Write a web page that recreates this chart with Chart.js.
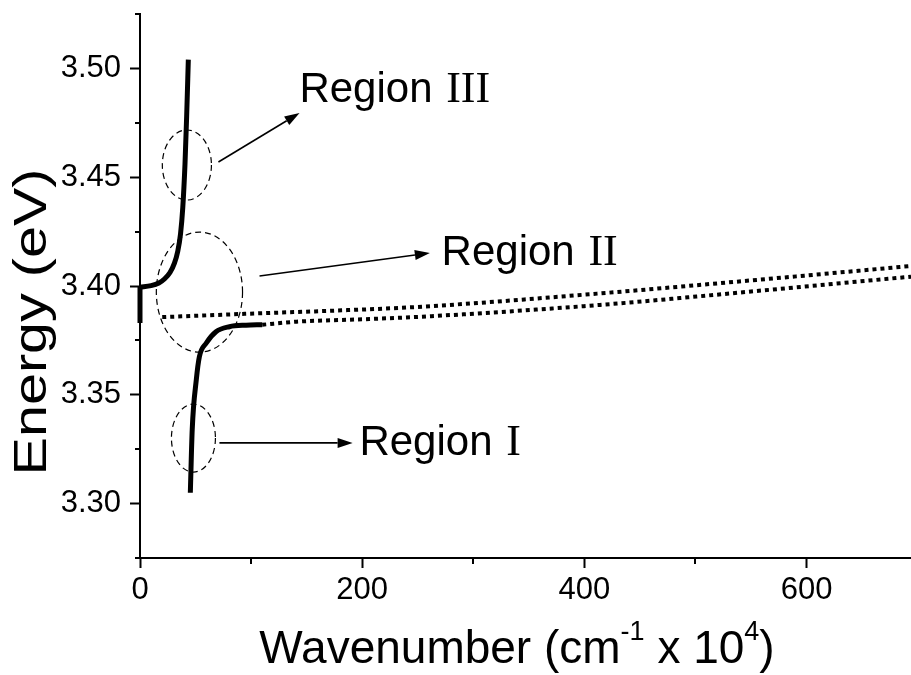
<!DOCTYPE html>
<html lang="en">
<head>
<meta charset="UTF-8">
<title>Polariton dispersion</title>
<script src="https://cdn.jsdelivr.net/npm/chart.js"></script>
<style>
  html, body { margin: 0; padding: 0; background: #fff; }
  #wrap { width: 911px; height: 675px; }
</style>
</head>
<body>
<div id="wrap"><canvas id="dispChart" width="911" height="675"></canvas></div>
<script>
// upper polariton branch (solid)
const upperK = [0, 10, 17, 22, 27, 31, 34, 36.5, 38.5, 40.5, 42, 43.5];
const upperE = [3.3995, 3.4002, 3.4014, 3.4032, 3.4062, 3.4105, 3.4160, 3.4240, 3.4360, 3.4560, 3.4780, 3.5040];

// lower polariton branch (solid part)
const lowerK = [45.3, 47, 50.7, 53.4, 59.7, 68.4, 80.5, 95.5, 110];
const lowerE = [3.305, 3.334, 3.357, 3.3674, 3.3738, 3.379, 3.3813, 3.382, 3.3822];

// short stub on the energy axis at k = 0
const stubK = [0, 0];
const stubE = [3.383, 3.400];

// dotted dispersion curves
const upperDotK = [20, 110, 171, 254, 414, 555, 694];
const upperDotE = [3.3857, 3.3875, 3.3886, 3.3905, 3.3966, 3.4028, 3.4092];
const lowerDotK = [110, 141, 200, 254, 414, 555, 694];
const lowerDotE = [3.3822, 3.3836, 3.3847, 3.3859, 3.3913, 3.3977, 3.4043];

// axes
const kMin = 0, kMax = 694;
const eMin = 3.275, eMax = 3.525;
const kTicks = [0, 100, 200, 300, 400, 500, 600];
const kLabels = ['0', '', '200', '', '400', '', '600'];
const eTicks = [3.275, 3.300, 3.325, 3.350, 3.375, 3.400, 3.425, 3.450, 3.475, 3.500, 3.525];
const eLabels = ['', '3.30', '', '3.35', '', '3.40', '', '3.45', '', '3.50', ''];

// region markers (data coordinates)
const regionNames = ['III', 'II', 'I'];
const ringK = [42.2, 53.5, 48.1];
const ringE = [3.4556, 3.3972, 3.3301];
const ringRadK = [22.1, 38.8, 19.8];
const ringRadE = [0.0161, 0.0276, 0.0156];
const arrowFromK = [70.6, 107.6, 71.5];
const arrowFromE = [3.457, 3.4046, 3.3279];
const arrowToK = [143.6, 260.9, 191.4];
const arrowToE = [3.4795, 3.4152, 3.3279];
const labelK = [143.5, 271.5, 197.5];
const labelE = [3.4847, 3.4097, 3.3223];

const SANS = "'Liberation Sans', Arial, sans-serif";
const SERIF = "'Liberation Serif', 'Times New Roman', serif";

const toPoints = (ks, es) => ks.map((k, i) => ({ x: k, y: es[i] }));
const labelAt = (vals, labels, v) => {
  const i = vals.findIndex(t => Math.abs(t - v) < 1e-6);
  return i < 0 ? '' : labels[i];
};

const regionMarks = {
  id: 'regionMarks',
  afterDatasetsDraw(chart) {
    const { ctx, scales: { x, y } } = chart;
    ctx.save();
    ctx.strokeStyle = '#000';
    ctx.fillStyle = '#000';

    // dashed rings
    ctx.lineWidth = 1.2;
    ctx.setLineDash([6, 4]);
    ringK.forEach((k, i) => {
      const cx = x.getPixelForValue(k);
      const cy = y.getPixelForValue(ringE[i]);
      const rx = x.getPixelForValue(k + ringRadK[i]) - cx;
      const ry = cy - y.getPixelForValue(ringE[i] + ringRadE[i]);
      ctx.beginPath();
      ctx.ellipse(cx, cy, rx, ry, 0, 0, Math.PI * 2);
      ctx.stroke();
    });
    ctx.setLineDash([]);

    // arrows
    ctx.lineWidth = 1.6;
    arrowFromK.forEach((k, i) => {
      const x0 = x.getPixelForValue(k), y0 = y.getPixelForValue(arrowFromE[i]);
      const x1 = x.getPixelForValue(arrowToK[i]), y1 = y.getPixelForValue(arrowToE[i]);
      const a = Math.atan2(y1 - y0, x1 - x0);
      const len = 15, half = 5;
      const bx = x1 - len * Math.cos(a), by = y1 - len * Math.sin(a);
      ctx.beginPath();
      ctx.moveTo(x0, y0);
      ctx.lineTo(bx, by);
      ctx.stroke();
      ctx.beginPath();
      ctx.moveTo(x1, y1);
      ctx.lineTo(bx + half * Math.sin(a), by - half * Math.cos(a));
      ctx.lineTo(bx - half * Math.sin(a), by + half * Math.cos(a));
      ctx.closePath();
      ctx.fill();
    });

    // labels: "Region" in sans, numeral in serif
    ctx.textBaseline = 'alphabetic';
    ctx.textAlign = 'left';
    regionNames.forEach((num, i) => {
      const lx = x.getPixelForValue(labelK[i]);
      const ly = y.getPixelForValue(labelE[i]);
      ctx.font = '42px ' + SANS;
      ctx.fillText('Region', lx, ly);
      const w = ctx.measureText('Region ').width;
      ctx.font = '44px ' + SERIF;
      ctx.fillText(num, lx + w + 2, ly);
    });
    ctx.restore();
  },
  afterDraw(chart) {
    const { ctx, chartArea, scales: { x, y } } = chart;
    ctx.save();
    ctx.strokeStyle = '#000';
    ctx.lineWidth = 2;

    // minor ticks, half length
    kTicks.forEach((v, i) => {
      if (kLabels[i]) return;
      const px = Math.round(x.getPixelForValue(v));
      ctx.beginPath();
      ctx.moveTo(px, chartArea.bottom);
      ctx.lineTo(px, chartArea.bottom + 6);
      ctx.stroke();
    });
    eTicks.forEach((v, i) => {
      if (eLabels[i]) return;
      const py = Math.round(y.getPixelForValue(v));
      ctx.beginPath();
      ctx.moveTo(chartArea.left, py);
      ctx.lineTo(chartArea.left - 5, py);
      ctx.stroke();
    });

    // axis titles
    ctx.fillStyle = '#000';
    ctx.textBaseline = 'alphabetic';
    ctx.save();
    ctx.translate(46, 322);
    ctx.rotate(-Math.PI / 2);
    ctx.scale(1.25, 1);
    ctx.textAlign = 'center';
    ctx.font = '46px ' + SANS;
    ctx.fillText('Energy (eV)', 0, 0);
    ctx.restore();

    const parts = [
      ['Wavenumber (cm', 46, 0],
      ['-1', 27, 23],
      [' x 10', 46, 0],
      ['4', 27, 23],
      [')', 46, 0]
    ];
    let total = 0;
    parts.forEach(p => {
      ctx.font = p[1] + 'px ' + SANS;
      p.push(ctx.measureText(p[0]).width);
      total += p[3];
    });
    let cx = 517 - total / 2;
    ctx.textAlign = 'left';
    parts.forEach(p => {
      ctx.font = p[1] + 'px ' + SANS;
      ctx.fillText(p[0], cx, 663 - p[2]);
      cx += p[3];
    });
    ctx.restore();
  }
};

const solid = { borderColor: '#000', borderWidth: 5, pointRadius: 0, fill: false, cubicInterpolationMode: 'monotone', borderCapStyle: 'butt' };
const dotted = { borderColor: '#000', borderWidth: 4, pointRadius: 0, fill: false, borderDash: [4, 4], borderCapStyle: 'butt', cubicInterpolationMode: 'monotone' };

new Chart(document.getElementById('dispChart'), {
  type: 'line',
  data: {
    datasets: [
      Object.assign({ label: 'upper', data: toPoints(upperK, upperE) }, solid),
      Object.assign({ label: 'lower', data: toPoints(lowerK, lowerE) }, solid),
      Object.assign({ label: 'stub', data: toPoints(stubK, stubE), clip: 8 }, solid),
      Object.assign({ label: 'upper dotted', data: toPoints(upperDotK, upperDotE) }, dotted),
      Object.assign({ label: 'lower dotted', data: toPoints(lowerDotK, lowerDotE) }, dotted)
    ]
  },
  options: {
    responsive: false,
    animation: false,
    layout: { padding: { top: 14, right: 0, left: 0, bottom: 0 } },
    plugins: { legend: { display: false }, tooltip: { enabled: false } },
    scales: {
      x: {
        type: 'linear',
        min: kMin,
        max: kMax,
        afterBuildTicks(s) { s.ticks = kTicks.map(v => ({ value: v })); },
        afterFit(s) { s.height = 117; s.paddingLeft = 0; s.paddingRight = 0; },
        border: { color: '#000', width: 2 },
        grid: {
          drawOnChartArea: false,
          tickLength: 10,
          tickWidth: 2,
          tickColor: c => (c.tick && labelAt(kTicks, kLabels, c.tick.value)) ? '#000' : 'rgba(0,0,0,0)'
        },
        ticks: {
          autoSkip: false,
          maxRotation: 0,
          padding: 4,
          color: '#000',
          font: { family: SANS, size: 31 },
          callback: v => labelAt(kTicks, kLabels, v)
        }
      },
      y: {
        type: 'linear',
        min: eMin,
        max: eMax,
        afterBuildTicks(s) { s.ticks = eTicks.map(v => ({ value: v })); },
        afterFit(s) { s.width = 140; s.paddingTop = 0; s.paddingBottom = 0; },
        border: { color: '#000', width: 2 },
        grid: {
          drawOnChartArea: false,
          tickLength: 10,
          tickWidth: 2,
          tickColor: c => (c.tick && labelAt(eTicks, eLabels, c.tick.value)) ? '#000' : 'rgba(0,0,0,0)'
        },
        ticks: {
          autoSkip: false,
          padding: 9,
          color: '#000',
          font: { family: SANS, size: 31 },
          callback: v => labelAt(eTicks, eLabels, v)
        }
      }
    }
  },
  plugins: [regionMarks]
});
</script>
</body>
</html>
